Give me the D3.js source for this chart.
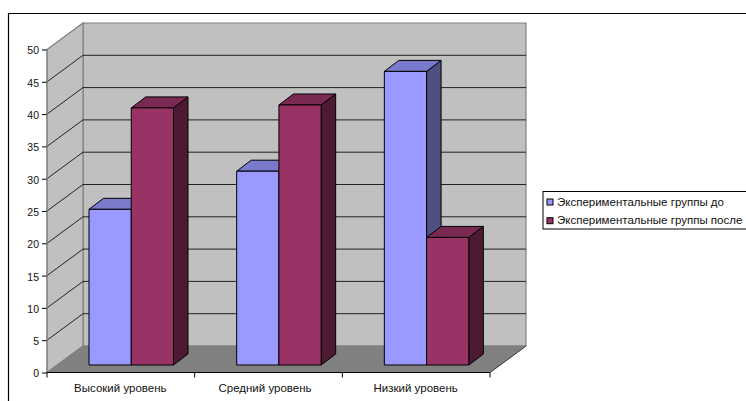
<!DOCTYPE html>
<html>
<head>
<meta charset="utf-8">
<script src="https://cdn.jsdelivr.net/npm/d3@7/dist/d3.min.js"></script>
<style>
html,body{margin:0;padding:0;background:#fff;overflow:hidden}
text{font-family:"Liberation Sans",Arial,sans-serif;fill:#111}
.tick text{font-size:10.5px}
.label{font-size:11.5px}
</style>
</head>
<body>
<svg id="chart" width="746" height="401"></svg>
<script>
const categories = ["Высокий уровень", "Средний уровень", "Низкий уровень"];
const seriesNames = ["Экспериментальные группы до", "Экспериментальные группы после"];
const before = [24.1, 30, 45.45];
const after = [39.8, 40.25, 19.75];
const yTicks = [0, 5, 10, 15, 20, 25, 30, 35, 40, 45, 50];

const palette = [
  {front: "#9999ff", top: "#7a7acc", side: "#4f4f80"},
  {front: "#993366", top: "#7a2952", side: "#4d1a33"}
];

const svg = d3.select("#chart");
const left = 47, right = 490, floorY = 372.5, topY = 49.5;
const depthX = 36, depthY = 26.5;   // offset of the back wall
const y = d3.scaleLinear().domain([0, 50]).range([floorY, topY]);
const x = d3.scaleBand().domain(categories).range([left, right]);
const barX = d3.scaleBand().domain([0, 1]).range([0, 84.5]);
const barInsetX = 42, barInsetY = 7.5;   // bar front relative to the floor's front edge
const barDepthX = 14.5, barDepthY = 11;

const poly = pts => pts.map(p => p.join(",")).join(" ");

// Chart frame, open at the right and bottom page edges
svg.append("path").attr("d", "M8.5,401V13.5H746").attr("fill", "none").attr("stroke", "#000").attr("stroke-width", 1.2);

// Walls and floor
svg.append("polygon").attr("points", poly([[left + depthX, topY - depthY], [right + depthX, topY - depthY], [right + depthX, floorY - depthY], [left + depthX, floorY - depthY]]))
  .attr("fill", "#c0c0c0").attr("stroke", "#808080").attr("stroke-width", 1.2);
svg.append("polygon").attr("points", poly([[left, topY], [left + depthX, topY - depthY], [left + depthX, floorY - depthY], [left, floorY]]))
  .attr("fill", "#c0c0c0").attr("stroke", "#808080").attr("stroke-width", 1.2);
svg.append("polygon").attr("points", poly([[left, floorY], [left + depthX, floorY - depthY], [right + depthX, floorY - depthY], [right, floorY]]))
  .attr("fill", "#808080").attr("stroke", "#808080");

// Gridlines running across the side and back walls
const grid = yTicks.filter(t => t > 0 && t < 50);
svg.append("g").selectAll("path").data(grid).join("path")
  .attr("d", t => `M${left},${y(t)}L${left + depthX},${y(t) - depthY}H${right + depthX}`)
  .attr("fill", "none").attr("stroke", "#222").attr("stroke-width", 1);

// Axes
const yAxis = d3.axisLeft(y).tickValues(yTicks).tickSize(5).tickPadding(3);
const yG = svg.append("g").attr("transform", `translate(${left},0)`).call(yAxis);
yG.select(".domain").remove();
yG.selectAll("line").attr("stroke", "#000");
yG.selectAll("text").attr("dy", "0.42em");
svg.append("line").attr("x1", left).attr("x2", left).attr("y1", topY).attr("y2", floorY).attr("stroke", "#808080");

const xEdges = [left, ...categories.map(c => x(c) + x.bandwidth())];
svg.append("line").attr("x1", left).attr("x2", right).attr("y1", floorY).attr("y2", floorY).attr("stroke", "#000");
svg.append("line").attr("x1", right).attr("x2", right + depthX).attr("y1", floorY).attr("y2", floorY - depthY).attr("stroke", "#444");
svg.append("g").selectAll("line").data(xEdges).join("line")
  .attr("x1", d => d).attr("x2", d => d).attr("y1", floorY).attr("y2", floorY + 5).attr("stroke", "#000");
// The middle label sits slightly left of its band centre
svg.append("g").selectAll("text").data(categories).join("text").attr("class", "label")
  .attr("x", (d, i) => x(d) + x.bandwidth() / 2 - (i === 1 ? 3.5 : 0.5)).attr("y", 392).attr("text-anchor", "middle").text(d => d);

// 3D bars: side, top, then front face of each series in each category
const bars = [];
categories.forEach((c, i) => {
  [before, after].forEach((vals, s) => bars.push({c, s, v: vals[i]}));
});
const gBars = svg.append("g").attr("stroke", "#000").attr("stroke-width", 1).attr("stroke-linejoin", "round");
bars.forEach(b => {
  const x0 = x(b.c) + barInsetX + barX(b.s), x1 = x0 + barX.bandwidth();
  const yb = floorY - barInsetY, yt = y(b.v) - barInsetY;
  const col = palette[b.s];
  gBars.append("polygon").attr("fill", col.side)
    .attr("points", poly([[x1, yt], [x1 + barDepthX, yt - barDepthY], [x1 + barDepthX, yb - barDepthY], [x1, yb]]));
  gBars.append("polygon").attr("fill", col.top)
    .attr("points", poly([[x0, yt], [x0 + barDepthX, yt - barDepthY], [x1 + barDepthX, yt - barDepthY], [x1, yt]]));
  gBars.append("rect").attr("fill", col.front).attr("x", x0).attr("y", yt).attr("width", x1 - x0).attr("height", yb - yt);
});

// Legend
const legend = svg.append("g");
legend.append("rect").attr("x", 543).attr("y", 191.5).attr("width", 210).attr("height", 37.5)
  .attr("fill", "#fff").attr("stroke", "#000").attr("stroke-width", 1);
seriesNames.forEach((name, i) => {
  const ly = 202 + i * 18.7;
  legend.append("rect").attr("x", 547).attr("y", ly - 3).attr("width", 6).attr("height", 6)
    .attr("fill", palette[i].front).attr("stroke", "#000");
  legend.append("text").attr("class", "label").attr("x", 557).attr("y", ly + 3.5).text(name);
});
</script>
</body>
</html>
